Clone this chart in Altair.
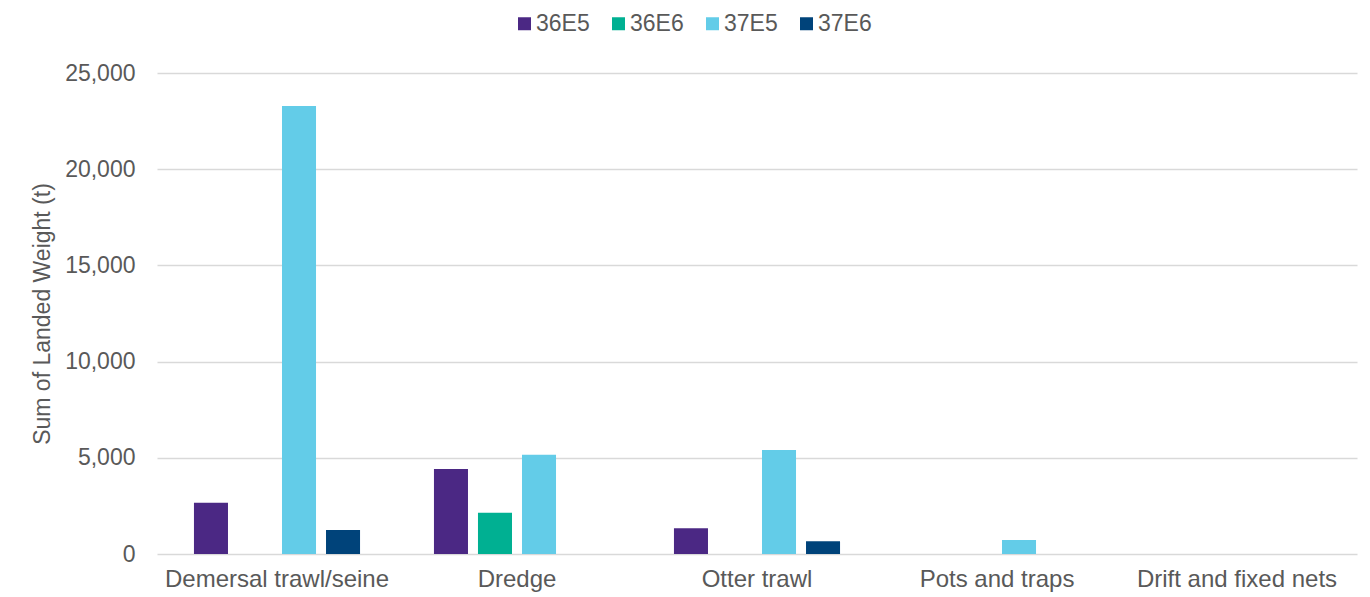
import altair as alt
import pandas as pd

categories = ["Demersal trawl/seine", "Dredge", "Otter trawl", "Pots and traps", "Drift and fixed nets"]
series_names = ["36E5", "36E6", "37E5", "37E6"]
s36E5 = [2670, 4420, 1335, 0, 0]
s36E6 = [0, 2150, 0, 0, 0]
s37E5 = [23280, 5160, 5400, 730, 0]
s37E6 = [1250, 0, 660, 0, 0]
colors = ["#4B2884", "#00B092", "#63CCE8", "#00437A"]
y_ticks = [0, 5000, 10000, 15000, 20000, 25000]

rows = []
for name, vals in zip(series_names, [s36E5, s36E6, s37E5, s37E6]):
    for c, v in zip(categories, vals):
        rows.append({"category": c, "series": name, "value": v})
df = pd.DataFrame(rows)

FONT = "Liberation Sans"
TXT = "#595959"

chart = alt.Chart(df).mark_bar().encode(
    x=alt.X("category:N", sort=categories,
            scale=alt.Scale(paddingInner=0.308, paddingOuter=0.154),
            axis=alt.Axis(title=None, labelAngle=0, labelFontSize=24, labelColor=TXT,
                          labelFont=FONT, ticks=False, domain=False, labelPadding=13,
                          labelLimit=0, grid=False)),
    xOffset=alt.XOffset("series:N", sort=series_names,
                        scale=alt.Scale(paddingInner=0.227, paddingOuter=0)),
    y=alt.Y("value:Q", scale=alt.Scale(domain=[0, 25000], nice=False),
            axis=alt.Axis(title="Sum of Landed Weight (t)", values=y_ticks, format=",d",
                          labelFontSize=23, labelColor=TXT, labelFont=FONT,
                          titleFontSize=23, titleColor=TXT, titleFont=FONT,
                          titleFontWeight="normal", titlePadding=10,
                          ticks=False, domain=False, labelPadding=22,
                          grid=True, gridColor="#D9D9D9", gridWidth=1.3)),
    color=alt.Color("series:N", sort=series_names,
                    scale=alt.Scale(domain=series_names, range=colors),
                    legend=alt.Legend(title=None, orient="none", direction="horizontal",
                                      legendX=356, legendY=-61,
                                      symbolType="square", symbolSize=169,
                                      symbolStrokeWidth=0, labelFontSize=23,
                                      labelColor=TXT, labelFont=FONT, labelOffset=0,
                                      columnPadding=17)),
).properties(
    width=1200, height=481,
    padding={"left": 149, "top": 65, "right": 5, "bottom": 40},
    autosize=alt.AutoSizeParams(type="none"),
).configure_view(stroke=None)

chart.save("out.html", embed_options={"renderer": "svg", "actions": False})
